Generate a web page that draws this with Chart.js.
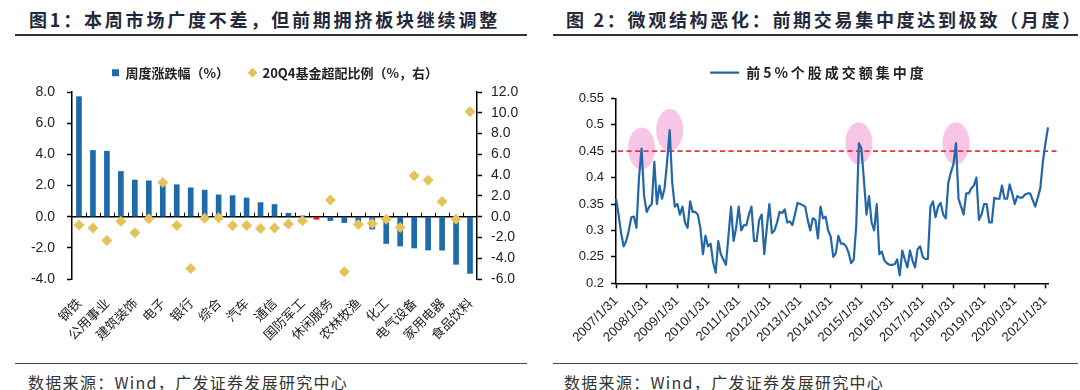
<!DOCTYPE html>
<html lang="zh">
<head>
<meta charset="utf-8">
<script src="https://cdn.jsdelivr.net/npm/chart.js@4.4.1/dist/chart.umd.min.js"></script>
<style>
  body { margin: 0; width: 1080px; height: 390px; background: #fff; position: relative; overflow: hidden;
         font-family: "Noto Sans CJK SC", "Noto Sans", sans-serif; }
  .title { position: absolute; top: 6px; font-size: 18px; font-weight: bold; color: #1f2a3c; white-space: nowrap; }
  .rule { position: absolute; height: 2px; background: #333; }
  .foot { position: absolute; height: 1px; background: #444; top: 363px; }
  .src { position: absolute; top: 370px; font-size: 16px; color: #333; white-space: nowrap; letter-spacing: 1.3px; }
  canvas { position: absolute; top: 40px; }
</style>
</head>
<body>
<div class="title" style="left:29px; letter-spacing:2.8px;">图1：本周市场广度不差，但前期拥挤板块继续调整</div>
<div class="rule" style="left:15px; top:34px; width:512px;"></div>
<canvas id="c1" width="530" height="320" style="left:0;"></canvas>
<div class="foot" style="left:15px; width:512px;"></div>
<div class="src" style="left:28px;">数据来源：Wind，广发证券发展研究中心</div>

<div class="title" style="left:566px; letter-spacing:2.7px;">图 2：微观结构恶化：前期交易集中度达到极致（月度）</div>
<div class="rule" style="left:553px; top:34px; width:525px;"></div>
<canvas id="c2" width="540" height="320" style="left:540px;"></canvas>
<div class="foot" style="left:553px; width:525px;"></div>
<div class="src" style="left:564px;">数据来源：Wind，广发证券发展研究中心</div>

<script>
// ---- figure 1: weekly sector returns vs fund overweight ----
const sectors = ['钢铁', '有色金属', '公用事业', '采掘', '建筑装饰', '建筑材料', '电子', '交通运输',
  '银行', '房地产', '综合', '纺织服装', '汽车', '轻工制造', '通信', '商业贸易', '国防军工', '万得全A',
  '休闲服务', '非银金融', '农林牧渔', '传媒', '化工', '计算机', '电气设备', '医药生物', '家用电器',
  '机械设备', '食品饮料'];
const BENCHMARK = '万得全A';
const weeklyChange = [7.7, 4.25, 4.2, 2.9, 2.35, 2.3, 2.15, 2.05, 1.85, 1.7, 1.4, 1.35, 1.2, 0.9, 0.78,
  0.22, 0.05, -0.17, -0.25, -0.38, -0.5, -0.8, -1.72, -1.88, -2.01, -2.14, -2.15, -3.06, -3.64];
const fundOverweight = [-0.8, -1.1, -2.3, -0.45, -1.55, -0.2, 3.3, -0.85, -5.0, -0.15, -0.1, -0.85, -0.85,
  -1.13, -1.08, -0.7, -0.4, null, 1.6, -5.3, -0.75, -0.65, -0.25, -1.05, 3.95, 3.5, 1.45, -0.25, 10.1];

// ---- figure 2: top-5% turnover concentration, monthly ----
const years = [2007, 2008, 2009, 2010, 2011, 2012, 2013, 2014, 2015, 2016, 2017, 2018, 2019, 2020, 2021];
const lastMonth = 2; // data runs to 2021/2
const concentration = [
  0.36, 0.33, 0.295, 0.27, 0.28, 0.30, 0.325, 0.326, 0.305, 0.40, 0.455, 0.365,
  0.335, 0.345, 0.35, 0.43, 0.35, 0.385, 0.36, 0.38, 0.43, 0.49, 0.39, 0.345,
  0.35, 0.33, 0.345, 0.315, 0.305, 0.355, 0.335, 0.335, 0.33, 0.305, 0.255, 0.29,
  0.27, 0.275, 0.24, 0.22, 0.28, 0.255, 0.245, 0.235, 0.29, 0.345, 0.28, 0.305,
  0.345, 0.30, 0.31, 0.31, 0.33, 0.345, 0.28, 0.28, 0.32, 0.33, 0.255, 0.305,
  0.35, 0.295, 0.30, 0.315, 0.335, 0.333, 0.34, 0.315, 0.317, 0.31, 0.33, 0.352,
  0.35, 0.348, 0.345, 0.32, 0.30, 0.323, 0.32, 0.285, 0.345, 0.323, 0.326, 0.30,
  0.288, 0.25, 0.257, 0.29, 0.275, 0.275, 0.27, 0.258, 0.238, 0.245, 0.31, 0.465,
  0.455, 0.395, 0.33, 0.365, 0.315, 0.30, 0.35, 0.255, 0.26, 0.243, 0.238, 0.235,
  0.235, 0.236, 0.245, 0.215, 0.262, 0.245, 0.23, 0.262, 0.243, 0.23, 0.265, 0.27,
  0.25, 0.246, 0.246, 0.345, 0.355, 0.325, 0.345, 0.352, 0.33, 0.323, 0.39, 0.41,
  0.425, 0.465, 0.36, 0.345, 0.33, 0.37, 0.37, 0.38, 0.385, 0.40, 0.32, 0.33,
  0.35, 0.35, 0.315, 0.315, 0.362, 0.36, 0.36, 0.385, 0.36, 0.36, 0.387, 0.37,
  0.35, 0.365, 0.362, 0.362, 0.368, 0.37, 0.37, 0.358, 0.345, 0.362, 0.38, 0.43,
  0.465, 0.495
];
const THRESHOLD = 0.45;
const peakMonths = [10, 21, 95, 133]; // circled peaks

const months = [];
years.forEach(y => {
  for (let m = 1; m <= 12; m++) {
    if (y === years[years.length - 1] && m > lastMonth) break;
    months.push(`${y}/${m}/${new Date(y, m, 0).getDate()}`);
  }
});

const CJK = '"Noto Sans CJK SC", "Noto Sans", sans-serif';
const NUM = '"Liberation Sans", Arial, sans-serif';
const BLUE = '#1f6aa8';
const RED = '#e3141b';
const GOLD = '#e6c35a';
const INK = '#222';

// zero line across the plot with small ticks between categories
const zeroAxis = {
  id: 'zeroAxis',
  beforeDatasetsDraw(chart) {
    const { ctx, chartArea: a, scales: { x, y } } = chart;
    const y0 = y.getPixelForValue(0);
    ctx.save();
    ctx.strokeStyle = '#000';
    ctx.lineWidth = 1.5;
    ctx.beginPath();
    ctx.moveTo(a.left, y0);
    ctx.lineTo(a.right, y0);
    ctx.stroke();
    ctx.lineWidth = 1;
    ctx.beginPath();
    for (let i = 1; i < chart.data.labels.length; i++) {
      const px = Math.round((x.getPixelForValue(i - 1) + x.getPixelForValue(i)) / 2) + 0.5;
      ctx.moveTo(px, y0);
      ctx.lineTo(px, y0 - 4);
    }
    ctx.stroke();
    ctx.restore();
  }
};

// pink highlight ellipses and the dashed 0.45 reference line
const highlights = {
  id: 'highlights',
  beforeDatasetsDraw(chart) {
    const { ctx, chartArea: a, scales: { x, y } } = chart;
    const data = chart.data.datasets[0].data;
    ctx.save();
    ctx.fillStyle = 'rgba(243,150,210,0.55)';
    peakMonths.forEach(i => {
      ctx.beginPath();
      ctx.ellipse(x.getPixelForValue(i), y.getPixelForValue(data[i]), 13.5, 21, 0, 0, Math.PI * 2);
      ctx.fill();
    });
    const yt = y.getPixelForValue(THRESHOLD);
    ctx.strokeStyle = '#f0323c';
    ctx.lineWidth = 1.6;
    ctx.setLineDash([5, 3.5]);
    ctx.beginPath();
    ctx.moveTo(a.left + 2, yt);
    ctx.lineTo(a.right + 10, yt);
    ctx.stroke();
    ctx.restore();
  }
};

// wider letter spacing for a legend
const spacedLegend = {
  id: 'spacedLegend',
  afterInit(chart, args, opts) {
    const lg = chart.legend;
    if (!lg || !opts.spacing) return;
    ['fit', 'draw'].forEach(fn => {
      const base = lg[fn];
      lg[fn] = function (...rest) {
        const prev = this.ctx.letterSpacing;
        this.ctx.letterSpacing = opts.spacing;
        base.apply(this, rest);
        this.ctx.letterSpacing = prev;
      };
    });
  }
};

const sideAxis = (min, max, step, digits, width, pad) => ({
  min, max,
  ticks: { stepSize: step, padding: pad, color: INK, font: { family: NUM, size: 14 },
           callback: v => Number(v).toFixed(digits) },
  grid: { drawOnChartArea: false, drawTicks: true, tickLength: 5, tickColor: '#000', tickWidth: 1.5 },
  border: { display: true, color: '#000', width: 1.5 },
  afterFit: s => { s.width = width; }
});

new Chart(document.getElementById('c1'), {
  data: {
    labels: sectors,
    datasets: [
      {
        type: 'bar',
        label: '周度涨跌幅（%）',
        data: weeklyChange,
        yAxisID: 'y',
        backgroundColor: c => sectors[c.dataIndex] === BENCHMARK ? RED : BLUE,
        barThickness: 5,
        pointStyle: 'rect',
        order: 2
      },
      {
        type: 'line',
        label: '20Q4基金超配比例（%，右）',
        data: fundOverweight,
        yAxisID: 'y1',
        showLine: false,
        pointStyle: 'rectRot',
        pointRadius: 5.5,
        pointHoverRadius: 5.5,
        backgroundColor: GOLD,
        borderColor: GOLD,
        borderWidth: 0,
        order: 1
      }
    ]
  },
  options: {
    responsive: false,
    animation: false,
    layout: { padding: { top: 6.2, left: 20, right: 0, bottom: 0 } },
    plugins: {
      legend: {
        labels: { usePointStyle: true, boxWidth: 7, boxHeight: 7, padding: 20, color: INK,
                  font: { family: CJK, size: 13, weight: 'bold' },
                  sort: (a, b) => a.datasetIndex - b.datasetIndex }
      },
      title: { display: true, text: '', weight: 500, padding: { top: 1.6, bottom: 0 }, font: { size: 1 } },
      tooltip: { enabled: false }
    },
    scales: {
      x: {
        grid: { display: false },
        border: { display: false },
        ticks: { autoSkip: false, minRotation: 45, maxRotation: 45, padding: 8, color: INK,
                 font: { family: CJK, size: 13 },
                 callback: (v, i) => (i % 2 === 0 ? sectors[i] : null) },
        afterFit: s => { s.height = 81; }
      },
      y: Object.assign(sideAxis(-4, 8, 2, 1, 52, 12), { position: 'left' }),
      y1: Object.assign(sideAxis(-6, 12, 2, 1, 53, 9), { position: 'right' })
    }
  },
  plugins: [zeroAxis]
});

new Chart(document.getElementById('c2'), {
  type: 'line',
  data: {
    labels: months,
    datasets: [{
      label: '前5%个股成交额集中度',
      data: concentration,
      borderColor: '#2467a6',
      backgroundColor: '#2467a6',
      borderWidth: 2.2,
      pointRadius: 0,
      pointStyle: 'line',
      tension: 0,
      borderJoinStyle: 'round'
    }]
  },
  options: {
    responsive: false,
    animation: false,
    layout: { padding: { top: 15.7, left: 20, right: 3, bottom: 0 } },
    plugins: {
      legend: {
        labels: { usePointStyle: true, pointStyleWidth: 29, padding: 10, color: INK,
                  font: { family: CJK, size: 14, weight: 'bold' } }
      },
      title: { display: true, text: '', weight: 500, padding: { top: 1.4, bottom: 0 }, font: { size: 6 } },
      spacedLegend: { spacing: '3px' },
      tooltip: { enabled: false }
    },
    scales: {
      x: {
        ticks: { autoSkip: false, minRotation: 45, maxRotation: 45, padding: 5, color: INK,
                 font: { family: NUM, size: 13 },
                 callback: (v, i) => (i % 12 === 0 ? months[i] : null) },
        grid: { drawOnChartArea: false, drawTicks: true, tickLength: 5, tickColor: '#000', tickWidth: 1.5 },
        border: { display: true, color: '#000', width: 1.5 },
        afterFit: s => { s.height = 76.7; }
      },
      y: {
        min: 0.2, max: 0.55,
        ticks: { stepSize: 0.05, padding: 7, color: INK, font: { family: NUM, size: 13 },
                 callback: v => String(Number(Number(v).toFixed(2))) },
        grid: { drawOnChartArea: false, drawTicks: true, tickLength: 5, tickColor: '#000', tickWidth: 1.5 },
        border: { display: true, color: '#000', width: 1.5 },
        afterFit: s => { s.width = 56; }
      },
      // empty right-hand strip so the plot ends where the reference's does
      yPad: {
        position: 'right',
        ticks: { display: false },
        grid: { display: false },
        border: { display: false },
        afterFit: s => { s.width = 29; }
      }
    }
  },
  plugins: [highlights, spacedLegend]
});
</script>
</body>
</html>
